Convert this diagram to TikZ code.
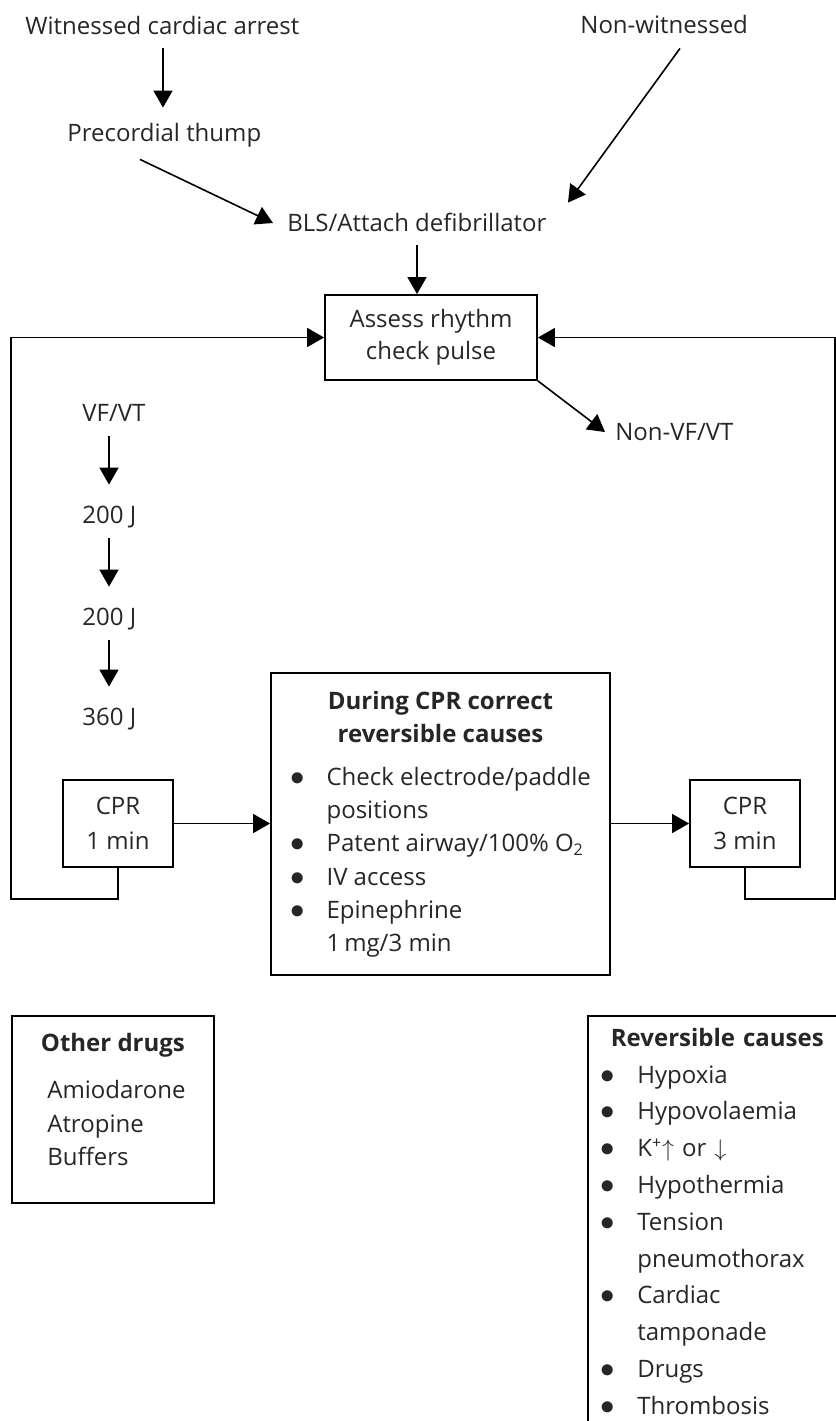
\documentclass[tikz,border=0pt]{standalone}
\usepackage{fontspec}
\setmainfont{Open Sans}
\usepackage{tikz}
\usetikzlibrary{arrows.meta, positioning}

\newcommand{\bul}{{\fontsize{14}{14}\selectfont$\bullet$}}

\begin{document}
\begin{tikzpicture}[
  x=0.5pt, y=-0.5pt,
  every node/.style={text=black!85},
  txt/.style={anchor=west, inner sep=2pt, text height=8pt, text depth=0pt,
              font=\fontsize{12}{16.5}\selectfont},
  cprbox/.style={rectangle, draw=black, line width=0.9pt, align=center,
                 minimum width=55pt, minimum height=43.5pt, inner sep=2pt,
                 font=\fontsize{12}{17.5}\selectfont},
  assessbox/.style={cprbox, minimum width=106pt, minimum height=42.5pt,
                    font=\fontsize{12}{16}\selectfont},
  bigbox/.style={rectangle, draw=black, line width=0.9pt, align=center,
                 minimum width=169.5pt, minimum height=151pt, inner sep=3pt,
                 font=\fontsize{12}{16.65}\selectfont},
  listbox/.style={rectangle, draw=black, line width=0.9pt, anchor=north west},
  arrow/.style={-{Triangle[length=8.5pt, width=9.5pt]}, line width=0.8pt},
  dose/.style={arrow, shorten <=5.5pt, shorten >=9pt}
]

\useasboundingbox (0,0) rectangle (836,1421);
\clip (0,0) rectangle (836,1421);

% Arrest and first steps
\node[txt] (witnessed) at (21,26) {Witnessed cardiac arrest};
\node[txt] (thump) at (63,133) {Precordial thump};
\node[txt] (nonwit) at (576,25) {Non-witnessed};
\node[txt] (bls) at (283,223) {BLS/Attach defibrillator};

\draw[arrow, shorten <=5pt, shorten >=6.5pt] ([xshift=71pt]witnessed.south west) -- ([xshift=50pt]thump.north west);
\draw[arrow] ([shift={(38.5pt,-7pt)}]thump.south west) -- ([xshift=-5pt]bls.west);
\draw[arrow] ([shift={(52pt,-5.5pt)}]nonwit.south west) -- ([shift={(142.5pt,4pt)}]bls.north west);

% Rhythm check
\node[assessbox] (assess) at (431,337.5) {Assess rhythm\\check pulse};
\node[txt] (nonvf) at (611,432) {Non-VF/VT};
\draw[arrow, shorten <=5pt] ([xshift=-7pt]assess.north |- bls.south) -- ([xshift=-7pt]assess.north);
\draw[arrow] (assess.south east) -- ([xshift=-3pt]nonvf.west);

% Shocks
\node[txt] (vfvt) at (78,413) {VF/VT};
\node[txt] (j1) at (78,515) {200 J};
\node[txt] (j2) at (78,617) {200 J};
\node[txt] (j3) at (78,717) {360 J};
\draw[dose] ([xshift=15.5pt]vfvt.south west) -- ([xshift=15.5pt]j1.north west);
\draw[dose] ([xshift=15.5pt]j1.south west) -- ([xshift=15.5pt]j2.north west);
\draw[dose] ([xshift=15.5pt]j2.south west) -- ([xshift=15.5pt]j3.north west);

% CPR loop
\node[cprbox] (cpr1) at (118,823.5) {CPR\\1 min};
\node[bigbox] (during) at (440.5,824)
  {\begin{tabular}{@{}c@{\hspace{11pt}}l@{}}
   \multicolumn{2}{c}{\textbf{During CPR correct}}\\
   \multicolumn{2}{c}{\textbf{reversible causes}}\\[4.5pt]
   \bul & Check electrode/paddle\\
        & positions\\
   \bul & Patent airway/100\% O\textsubscript{2}\\
   \bul & IV access\\
   \bul & Epinephrine\\
        & 1\,mg/3 min
   \end{tabular}};
\node[cprbox] (cpr3) at (745,823.5) {CPR\\3 min};

\draw[arrow] (cpr1.east) -- (cpr1.east -| during.west);
\draw[arrow] (during.east |- cpr3.west) -- (cpr3.west);

\coordinate (loopL) at (11,899);
\coordinate (loopR) at (835,899);
\draw[arrow] (cpr1.south) |- (loopL) |- (assess.west);
\draw[arrow] (cpr3.south) |- (loopR) |- (assess.east);

% Side lists
\node[listbox, inner xsep=4pt, inner ysep=6.3pt, minimum width=101pt,
      font=\fontsize{12}{16.75}\selectfont] (otherdrugs) at (11,1015)
  {\begin{tabular}{@{}l@{}}
   \multicolumn{1}{@{}c@{}}{\textbf{Other drugs}}\\[6.75pt]
   \hspace{3.5pt}Amiodarone\\
   \hspace{3.5pt}Atropine\\
   \hspace{3.5pt}Buffers\\[7.2pt]
   \end{tabular}};

\node[listbox, inner xsep=6.5pt, inner ysep=2.35pt, text width=126pt, align=left,
      font=\fontsize{12}{18.4}\selectfont] (revcauses) at (587,1015)
  {\begin{tabular}{@{}c@{\hspace{11pt}}l@{}}
   \multicolumn{2}{@{\hspace{5pt}}l}{\textbf{Reversible causes}}\\
   \bul & Hypoxia\\
   \bul & Hypovolaemia\\
   \bul & K\textsuperscript{+}$\uparrow$ or $\downarrow$\\
   \bul & Hypothermia\\
   \bul & Tension\\
        & pneumothorax\\
   \bul & Cardiac\\
        & tamponade\\
   \bul & Drugs\\
   \bul & Thrombosis\\[12pt]
   \end{tabular}};

\end{tikzpicture}
\end{document}
